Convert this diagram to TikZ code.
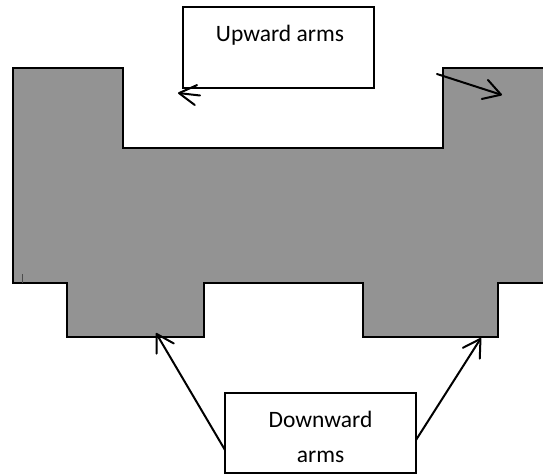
\documentclass[tikz,border=0pt]{standalone}
\usepackage{fontspec}
\setmainfont{Carlito}
\usetikzlibrary{arrows.meta}
\definecolor{shapegray}{RGB}{147,147,147}
\begin{document}
\begin{tikzpicture}[x=1pt,y=-1pt,
  outline/.style={line width=2.2pt, line join=miter},
  box/.style={draw, line width=1.8pt, fill=white, inner sep=0pt},
  lbl/.style={font=\fontsize{23.5}{34}\selectfont, anchor=base, inner sep=0pt},
  arr/.style={line width=2pt, line cap=round, -{Straight Barb[length=17pt,width=20pt,round]}}]
\useasboundingbox (0,0) rectangle (543,474);
% the shape
\fill[shapegray] (545,68) -- (443,68) -- (443,148) -- (123,148) -- (123,68) -- (13,68)
  -- (13,283) -- (67,283) -- (67,337) -- (204,337) -- (204,283) -- (363,283)
  -- (363,337) -- (498,337) -- (498,283) -- (545,283) -- cycle;
\draw[outline] (545,68) -- (443,68) -- (443,148) -- (123,148) -- (123,68) -- (13,68)
  -- (13,283) -- (67,283) -- (67,337) -- (204,337) -- (204,283) -- (363,283)
  -- (363,337) -- (498,337) -- (498,283) -- (545,283);
\draw[line width=0.6pt, black!70] (22,274) -- (22,283);
% boxes
\node[box, minimum width=191pt, minimum height=81pt] (upbox) at (278.5,47.5) {};
\node[lbl] (uptext) at (280,41) {Upward arms};
\node[box, minimum width=191pt, minimum height=80pt] (downbox) at (320.5,433) {};
\node[lbl] (dtexta) at (320.5,427) {Downward};
\node[lbl] (dtextb) at (320.5,462) {arms};
% connector endpoints
\coordinate (ua1) at (200,95.5);
\coordinate (ut1) at (178,93);
\coordinate (ua2) at (437,74);
\coordinate (ut2) at (502,95);
\coordinate (da1) at (225,450);
\coordinate (dt1) at (156,333);
\coordinate (da2) at (416,440);
\coordinate (dt2) at (481,338);
\draw[arr] (ua1) -- (ut1);
\draw[arr] (ua2) -- (ut2);
\draw[arr] (da1) -- (dt1);
\draw[arr] (da2) -- (dt2);
\end{tikzpicture}
\end{document}
